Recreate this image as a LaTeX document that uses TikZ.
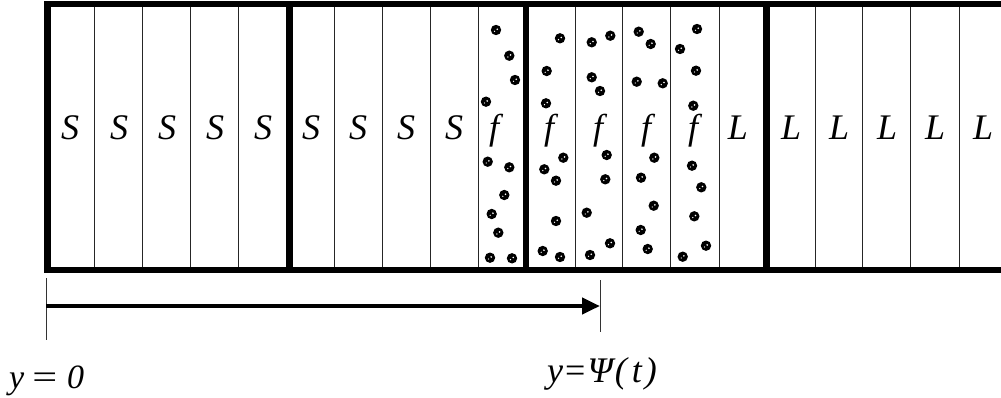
\documentclass[tikz,border=0pt]{standalone}
\usepackage{fontspec}
\usepackage{graphicx}
\setmainfont{Liberation Serif}
\usetikzlibrary{arrows.meta}
\begin{document}
\begin{tikzpicture}[x=1pt,y=-1pt,
  thinline/.style={line width=1pt, draw=black!85},
  thickline/.style={line width=6.5pt, draw=black},
  lab/.style={font=\fontsize{36}{40}\selectfont\itshape, anchor=base, inner sep=0pt},
  blob/.style={fill=black},
  tickline/.style={line width=1pt, draw=black!80},
  arr/.style={line width=4.5pt, -{Triangle[length=18pt,width=16pt]}},
  eqlab/.style={font=\fontsize{34}{38}\selectfont, anchor=base west, inner sep=0pt}]
\useasboundingbox (0,0) rectangle (1001,398);
\clip (0,0) rectangle (1001,398);

% thin column separators
\foreach \x in {94.3,142.7,190.7,238.3,334.3,382,430,478.3,575,622.7,670.7,719,815,862.7,910.7,959}
  \draw[thinline] (\x,4) -- (\x,270);

% particles in the f columns
\foreach \px/\py in {496/30,509.3/55.7,515/80,486/101.7,
  560/38.3,546.7/71,546/103.3,
  591.7/42.3,610.3/35.7,591.7/77.3,600/91,
  638.7/31.7,650.7/44,636.7/81.7,662.7/83.3,
  697/29,680/49,696/70.7,693.3/105.7,
  487.7/161.7,509.3/167.3,504.3/195,491.7/214,498.3/232.7,490/257.7,512/258.3,
  563.3/157.7,544.3/169.3,556/180.7,556/221,542.7/251,560/257,
  606.7/155,605.3/179.3,586.7/212.7,610/243.3,590/255,
  654.3/157.7,641/177.7,653.7/205.7,640.7/230,647.7/249,
  692/165.7,701.3/187.3,694.3/216.3,706/245.7,682.7/256.7}
  {\fill[blob] (\px,\py) circle (5.2);
   \fill[white] (\px+1.2,\py-0.8) circle (0.9);
   \fill[white] (\px-1.5,\py+1.3) circle (0.7);}

% thick frame and thick separators
\draw[thickline] (47.5,4) rectangle (1050,270);
\foreach \x in {289.5,526,766.3}
  \draw[thickline] (\x,4) -- (\x,270);

% column labels
\foreach \x/\t [count=\i] in {70/S,119/S,167/S,215/S,263/S,311/S,358/S,406/S,454/S,
  494/f,549/f,598/f,646/f,693/f,
  738/L,791/L,839/L,887/L,935/L,983/L}
  \node[lab] (l\i) at (\x,140) {\t};

% position markers and arrow
\coordinate (t0a) at (46,278);
\coordinate (t0b) at (46,340);
\coordinate (t1a) at (600,280);
\coordinate (t1b) at (600,332);
\draw[tickline] (t0a) -- (t0b);
\draw[tickline] (t1a) -- (t1b);
\coordinate (a0) at (46,306);
\coordinate (a1) at (600,306);
\draw[arr] (a0) -- (a1);

\node[eqlab] (y0) at (9,388) {\textit{y}\hspace{8pt}\scalebox{1.3}[1]{=}\hspace{10pt}\textit{0}};
\node[eqlab, font=\fontsize{36}{40}\selectfont] (ypsi) at (547,382) {\textit{y}\hspace{2pt}=\hspace{2pt}\textit{Ψ\hspace{2pt}(\hspace{5pt}t\hspace{3pt})}};
\end{tikzpicture}
\end{document}
